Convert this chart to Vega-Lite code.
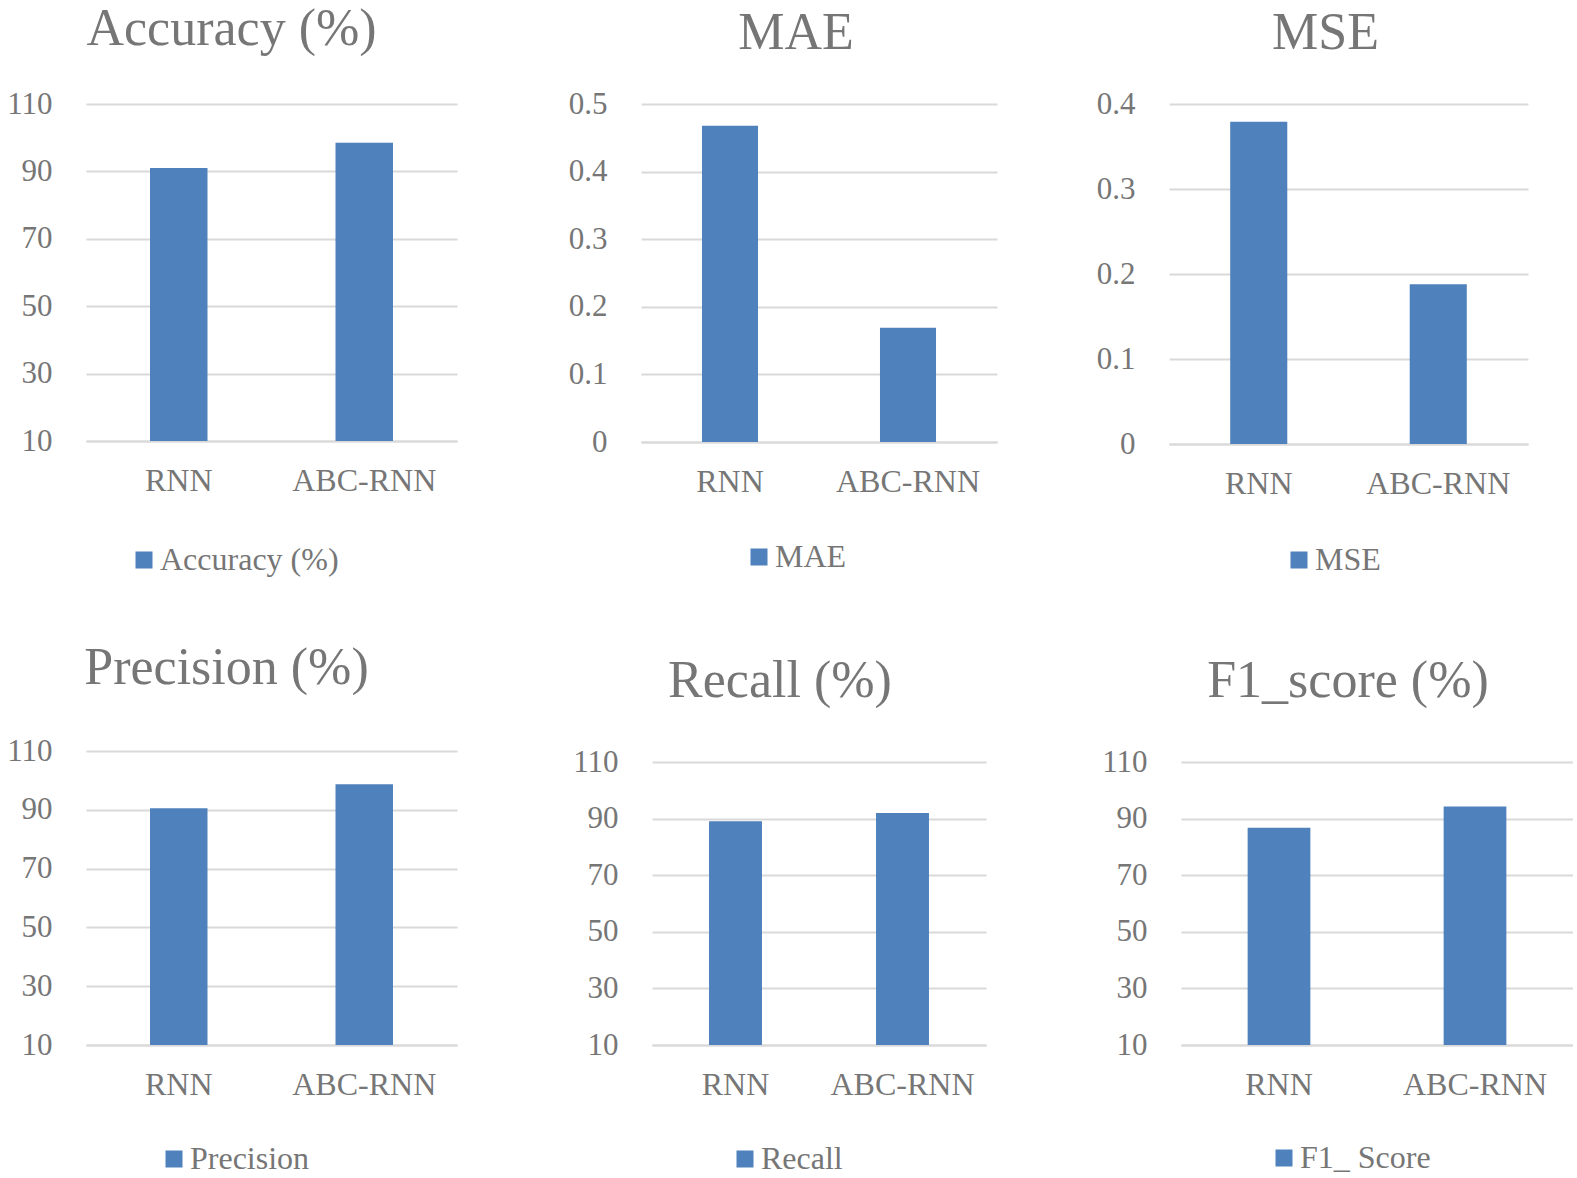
{
  "$schema": "https://vega.github.io/schema/vega-lite/v6.json",
  "padding": {"left": 6, "top": 3, "right": 0, "bottom": 0},
  "background": "white",
  "data": {"values": [
    {"metric": "Accuracy", "series": "Accuracy (%)", "model": "RNN", "value": 91.0},
    {"metric": "Accuracy", "series": "Accuracy (%)", "model": "ABC-RNN", "value": 98.5},
    {"metric": "MAE", "series": "MAE", "model": "RNN", "value": 0.468},
    {"metric": "MAE", "series": "MAE", "model": "ABC-RNN", "value": 0.169},
    {"metric": "MSE", "series": "MSE", "model": "RNN", "value": 0.379},
    {"metric": "MSE", "series": "MSE", "model": "ABC-RNN", "value": 0.188},
    {"metric": "Precision", "series": "Precision", "model": "RNN", "value": 90.5},
    {"metric": "Precision", "series": "Precision", "model": "ABC-RNN", "value": 98.7},
    {"metric": "Recall", "series": "Recall", "model": "RNN", "value": 89.1},
    {"metric": "Recall", "series": "Recall", "model": "ABC-RNN", "value": 92.0},
    {"metric": "F1", "series": "F1_ Score", "model": "RNN", "value": 86.8},
    {"metric": "F1", "series": "F1_ Score", "model": "ABC-RNN", "value": 94.3}
  ]},
  "config": {
    "view": {"stroke": null},
    "font": "Liberation Serif",
    "axis": {"labelFont": "Liberation Serif", "labelColor": "#767676", "ticks": false},
    "axisY": {"domain": false, "grid": true, "gridColor": "#d9d9d9", "gridWidth": 2, "labelFontSize": 31, "labelPadding": 34},
    "axisX": {"domain": true, "domainColor": "#d9d9d9", "domainWidth": 2, "grid": false, "labelFontSize": 32, "labelPadding": 24, "labelAngle": 0},
    "title": {"font": "Liberation Serif", "fontSize": 52, "fontWeight": "normal", "color": "#767676", "anchor": "middle", "frame": "group", "baseline": "alphabetic"},
    "legend": {"direction": "horizontal", "symbolType": "square", "symbolSize": 289, "symbolStrokeWidth": 0, "labelFont": "Liberation Serif", "labelFontSize": 32, "labelColor": "#767676", "labelOffset": 0, "labelLimit": 0},
    "bar": {"color": "#4f81bd"}
  },
  "bounds": "flush",
  "spacing": 647,
  "resolve": {"scale": {"color": "independent"}, "legend": {"color": "independent"}},
  "vconcat": [
    {
      "bounds": "flush",
      "spacing": 184,
      "resolve": {"scale": {"color": "independent"}, "legend": {"color": "independent"}},
      "hconcat": [
        {
          "width": 371, "height": 337,
          "title": {"text": "Accuracy (%)", "dx": -40, "offset": 32},
          "transform": [{"filter": "datum.metric === 'Accuracy'"}],
          "mark": {"type": "bar", "clip": true},
          "encoding": {
            "x": {"field": "model", "type": "nominal", "sort": ["RNN", "ABC-RNN"], "scale": {"paddingInner": 0.69, "paddingOuter": 0.345}, "axis": {"title": null}},
            "y": {"field": "value", "type": "quantitative", "scale": {"domain": [10, 110], "nice": false, "zero": false}, "axis": {"title": null, "values": [10, 30, 50, 70, 90, 110]}},
            "color": {"field": "series", "type": "nominal", "scale": {"range": ["#4f81bd"]}, "legend": {"title": null, "orient": "none", "legendX": 42, "legendY": 440}}
          }
        },
        {
          "bounds": "flush",
          "spacing": 172,
          "resolve": {"scale": {"color": "independent"}, "legend": {"color": "independent"}},
          "hconcat": [
            {
              "width": 356, "height": 338,
              "title": {"text": "MAE", "dx": -23, "offset": 28},
              "transform": [{"filter": "datum.metric === 'MAE'"}],
              "mark": {"type": "bar", "clip": true},
              "encoding": {
                "x": {"field": "model", "type": "nominal", "sort": ["RNN", "ABC-RNN"], "scale": {"paddingInner": 0.685, "paddingOuter": 0.3425}, "axis": {"title": null}},
                "y": {"field": "value", "type": "quantitative", "scale": {"domain": [0, 0.5], "nice": false}, "axis": {"title": null, "values": [0, 0.1, 0.2, 0.3, 0.4, 0.5], "format": "~g"}},
                "color": {"field": "series", "type": "nominal", "scale": {"range": ["#4f81bd"]}, "legend": {"title": null, "orient": "none", "legendX": 102, "legendY": 437}}
              }
            },
            {
              "width": 359, "height": 340,
              "title": {"text": "MSE", "dx": -23, "offset": 28},
              "transform": [{"filter": "datum.metric === 'MSE'"}],
              "mark": {"type": "bar", "clip": true},
              "encoding": {
                "x": {"field": "model", "type": "nominal", "sort": ["RNN", "ABC-RNN"], "scale": {"paddingInner": 0.682, "paddingOuter": 0.341}, "axis": {"title": null}},
                "y": {"field": "value", "type": "quantitative", "scale": {"domain": [0, 0.4], "nice": false}, "axis": {"title": null, "values": [0, 0.1, 0.2, 0.3, 0.4], "format": "~g"}},
                "color": {"field": "series", "type": "nominal", "scale": {"range": ["#4f81bd"]}, "legend": {"title": null, "orient": "none", "legendX": 114, "legendY": 440}}
              }
            }
          ]
        }
      ]
    },
    {
      "bounds": "flush",
      "spacing": 195,
      "resolve": {"scale": {"color": "independent"}, "legend": {"color": "independent"}},
      "hconcat": [
        {
          "width": 371, "height": 294,
          "title": {"text": "Precision (%)", "dx": -45, "offset": 40},
          "transform": [{"filter": "datum.metric === 'Precision'"}],
          "mark": {"type": "bar", "clip": true},
          "encoding": {
            "x": {"field": "model", "type": "nominal", "sort": ["RNN", "ABC-RNN"], "scale": {"paddingInner": 0.69, "paddingOuter": 0.345}, "axis": {"title": null}},
            "y": {"field": "value", "type": "quantitative", "scale": {"domain": [10, 110], "nice": false, "zero": false}, "axis": {"title": null, "values": [10, 30, 50, 70, 90, 110]}},
            "color": {"field": "series", "type": "nominal", "scale": {"range": ["#4f81bd"]}, "legend": {"title": null, "orient": "none", "legendX": 72, "legendY": 392}}
          }
        },
        {
          "width": 334, "height": 294,
          "title": {"text": "Recall (%)", "dx": -39, "offset": 38},
          "transform": [{"filter": "datum.metric === 'Recall'"}],
          "mark": {"type": "bar", "clip": true},
          "encoding": {
            "x": {"field": "model", "type": "nominal", "sort": ["RNN", "ABC-RNN"], "scale": {"paddingInner": 0.683, "paddingOuter": 0.3415}, "axis": {"title": null}},
            "y": {"field": "value", "type": "quantitative", "scale": {"domain": [10, 113.9], "nice": false, "zero": false}, "axis": {"title": null, "values": [10, 30, 50, 70, 90, 110]}},
            "color": {"field": "series", "type": "nominal", "scale": {"range": ["#4f81bd"]}, "legend": {"title": null, "orient": "none", "legendX": 77, "legendY": 392}}
          }
        },
        {
          "width": 392, "height": 294,
          "title": {"text": "F1_score (%)", "dx": -29, "offset": 38},
          "transform": [{"filter": "datum.metric === 'F1'"}],
          "mark": {"type": "bar", "clip": true},
          "encoding": {
            "x": {"field": "model", "type": "nominal", "sort": ["RNN", "ABC-RNN"], "scale": {"paddingInner": 0.68, "paddingOuter": 0.34}, "axis": {"title": null}},
            "y": {"field": "value", "type": "quantitative", "scale": {"domain": [10, 113.9], "nice": false, "zero": false}, "axis": {"title": null, "values": [10, 30, 50, 70, 90, 110]}},
            "color": {"field": "series", "type": "nominal", "scale": {"range": ["#4f81bd"]}, "legend": {"title": null, "orient": "none", "legendX": 87, "legendY": 391}}
          }
        }
      ]
    }
  ]
}
